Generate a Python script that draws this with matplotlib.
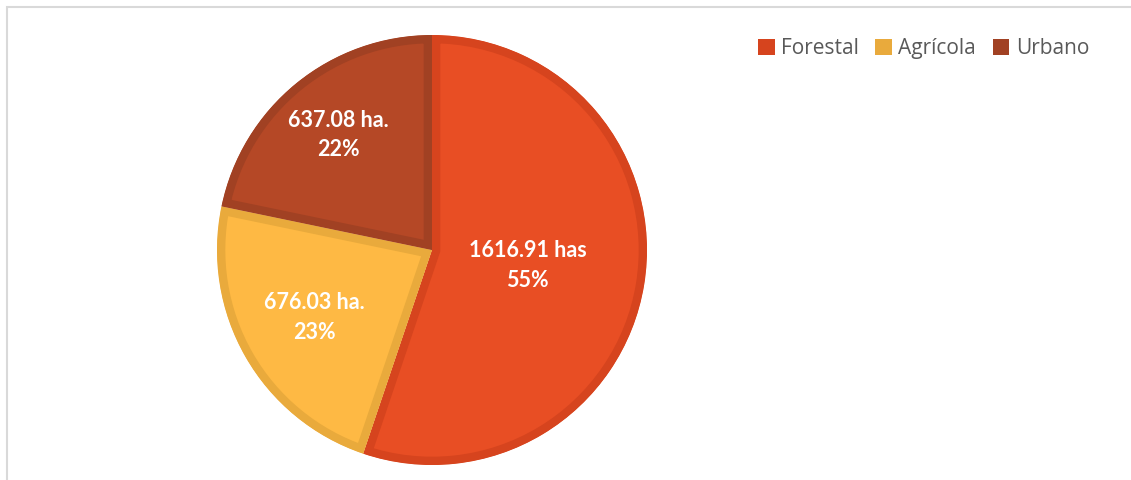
import matplotlib
matplotlib.use("Agg")
import matplotlib.pyplot as plt
from matplotlib.patches import Rectangle, Patch
import numpy as np

# --- land use data ---
categories = ["Forestal", "Agrícola", "Urbano"]
areas = [1616.91, 676.03, 637.08]
units = ["has", "ha.", "ha."]

face_colors = ["#E84E24", "#FEB944", "#B54826"]
edge_colors = ["#D6441E", "#E9AA3C", "#A14123"]
label_dist = [0.45, 0.63, 0.69]

W, H = 1131, 480
fig = plt.figure(figsize=(W / 100, H / 100), dpi=100)

# light chart frame (top and left edges visible)
fig.patches.append(Rectangle((7 / W, -0.1), 2, (H - 7) / H + 0.1,
                             transform=fig.transFigure, fill=False,
                             edgecolor="#D9D9D9", lw=1.5))

# pie axes: center (432, 250) px, radius 215 px
cx, cy, r = 432, 250, 215
ax = fig.add_axes([(cx - r) / W, (H - cy - r) / H, 2 * r / W, 2 * r / H])
wedges, _ = ax.pie(areas, colors=face_colors, startangle=90,
                   counterclock=False, radius=1.0)
ax.set_xlim(-1, 1)
ax.set_ylim(-1, 1)
ax.set_aspect("equal")
ax.axis("off")

# inner border on each slice: double-width stroke clipped to the slice
for w, ec in zip(wedges, edge_colors):
    w.set_edgecolor(ec)
    w.set_linewidth(12)
    w.set_clip_on(True)
    w.set_clip_path(w.get_path(), ax.transData)

total = sum(areas)
for w, a, u, d in zip(wedges, areas, units, label_dist):
    mid = np.deg2rad((w.theta1 + w.theta2) / 2)
    pct = round(a / total * 100)
    ax.text(d * np.cos(mid), d * np.sin(mid), f"{a:.2f} {u}\n{pct}%",
            ha="center", va="center", color="white", fontsize=15.5,
            fontweight="bold", family="Lato", linespacing=1.5)

handles = [Patch(facecolor=c, edgecolor="none") for c in edge_colors]
fig.legend(handles, categories, loc="upper right", ncol=3,
           bbox_to_anchor=(1089 / W, 1 - 38 / H), frameon=False,
           handlelength=0.8, handleheight=0.8, handletextpad=0.3,
           columnspacing=0.8, borderaxespad=0, borderpad=0,
           prop={"family": "Open Sans", "size": 15}, labelcolor="#595959")

fig.savefig("out.png", dpi=100)
